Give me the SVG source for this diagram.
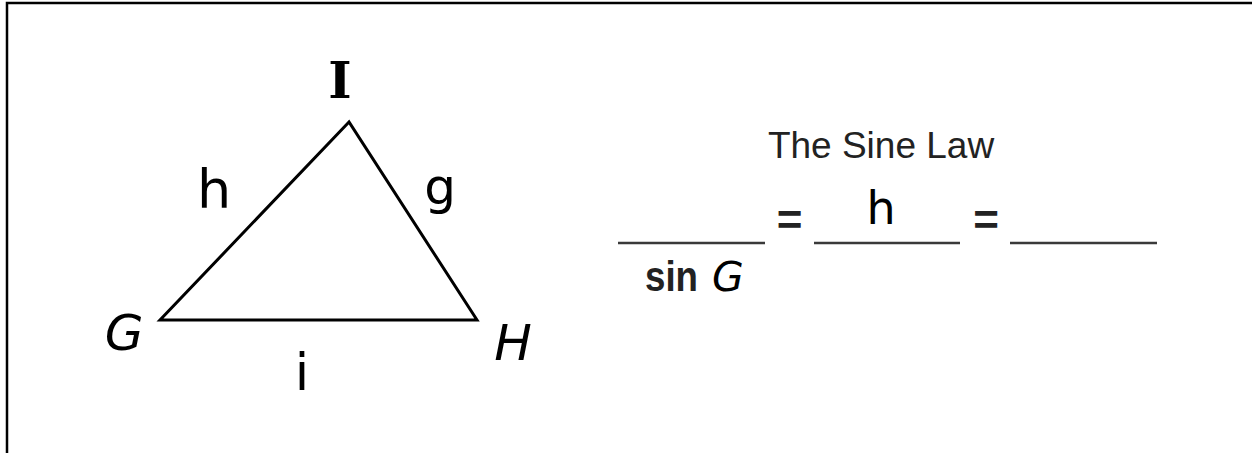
<svg xmlns="http://www.w3.org/2000/svg" width="1252" height="453" viewBox="0 0 1252 453">
<style>
.comic{font-family:"DejaVu Sans",sans-serif;fill:#000}
.obl{font-style:oblique}
.blank{stroke:#3a3a3a;stroke-width:2.5;fill:none}
.eq{font-family:"Liberation Sans",Arial,sans-serif;fill:#222;font-size:44px;font-weight:bold}
</style>
<rect width="1252" height="453" fill="#fff"/>
<g id="frame">
<path d="M7 453 V3 H1252" fill="none" stroke="#000" stroke-width="2.5"/>
</g>
<g id="triangle">
<polygon points="349,122 160,320 477,320" fill="none" stroke="#000" stroke-width="3" stroke-linejoin="miter"/>
</g>
<g id="vertex-labels">
<text x="340" y="98" text-anchor="middle" style="font-family:'DejaVu Serif',serif;font-weight:bold;font-size:50px">I</text>
<text x="124" y="350" text-anchor="middle" class="comic obl" font-size="50">G</text>
<text x="513" y="360" text-anchor="middle" class="comic obl" font-size="50">H</text>
</g>
<g id="side-labels">
<text x="214" y="208" text-anchor="middle" class="comic" font-size="54">h</text>
<text x="440" y="204" text-anchor="middle" class="comic" font-size="50">g</text>
<text x="302" y="390" text-anchor="middle" class="comic" font-size="52">i</text>
</g>
<g id="sine-law">
<text x="881" y="158" text-anchor="middle" font-family="'Liberation Sans',Arial,sans-serif" font-size="37" fill="#222">The Sine Law</text>
<line class="blank" x1="618" y1="243" x2="765" y2="243"/>
<line class="blank" x1="814" y1="243" x2="960" y2="243"/>
<line class="blank" x1="1010" y1="243" x2="1157" y2="243"/>
<text class="eq" x="789.5" y="235" text-anchor="middle">=</text>
<text class="eq" x="986" y="235" text-anchor="middle">=</text>
<text x="881" y="224" text-anchor="middle" class="comic" font-size="46">h</text>
<text x="645" y="291" font-family="'Liberation Sans',Arial,sans-serif" font-weight="bold" font-size="42" fill="#222" textLength="53" lengthAdjust="spacingAndGlyphs">sin</text>
<text x="728" y="291" text-anchor="middle" class="comic obl" font-size="41">G</text>
</g>
</svg>
